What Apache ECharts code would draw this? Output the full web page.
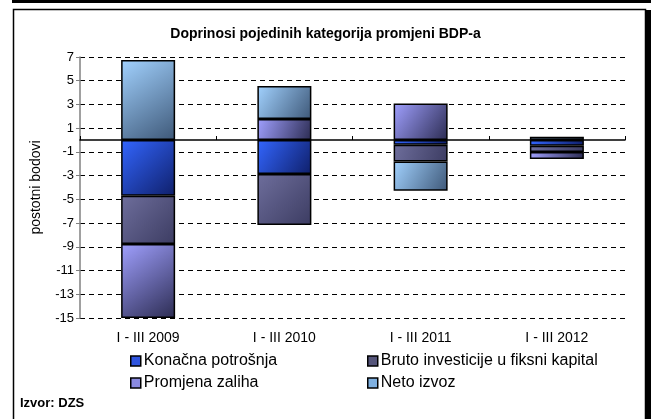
<!DOCTYPE html>
<html>
<head>
<meta charset="utf-8">
<script src="https://cdn.jsdelivr.net/npm/echarts@6/dist/echarts.min.js"></script>
<style>
html,body{margin:0;padding:0;background:#fff;}
#c{width:651px;height:419px;}
</style>
</head>
<body>
<div id="c"></div>
<script>
var categories = ['I - III 2009', 'I - III 2010', 'I - III 2011', 'I - III 2012'];
var seriesNames = ['Konačna potrošnja', 'Bruto investicije u fiksni kapital', 'Promjena zaliha', 'Neto izvoz'];
var konacna = [-4.7, -2.87, -0.4, -0.48];
var bruto = [-4.07, -4.3, -1.4, -0.52];
var promjena = [-6.23, 1.77, 3.09, -0.6];
var neto = [6.75, 2.78, -2.47, 0.28];
var yTicks = {min: -15, max: 7, interval: 2};

var FONT = '"Liberation Sans", Arial, sans-serif';
function grad(a, b) {
  return new echarts.graphic.LinearGradient(0, 0, 1, 1, [{offset: 0, color: a}, {offset: 1, color: b}]);
}
var fills = [grad('#3366ff', '#0f1f6a'), grad('#6e6e9c', '#3c3c62'), grad('#a0a0ff', '#2c2c52'), grad('#a2d2ff', '#3e5878')];
var solid = ['#2f55e0', '#55557a', '#8a8ae0', '#7fb0e0'];
var values = [konacna, bruto, promjena, neto];

var chart = echarts.init(document.getElementById('c'));
var series = seriesNames.map(function (n, i) {
  return {
    name: n, type: 'bar', stack: 'all', barWidth: 54, xAxisIndex: 0,
    data: values[i],
    itemStyle: {color: fills[i], borderColor: '#000', borderWidth: 1.5},
    emphasis: {disabled: true}
  };
});
var legendPos = [[130, 353], [367, 353], [130, 375], [367, 375]];
var legends = seriesNames.map(function (n, i) {
  return {
    left: legendPos[i][0], top: legendPos[i][1], orient: 'horizontal',
    data: [{name: n, icon: 'rect', itemStyle: {color: solid[i], borderColor: '#000', borderWidth: 1.5}}],
    itemWidth: 10, itemHeight: 10, itemGap: 4, padding: 0,
    textStyle: {fontFamily: FONT, fontSize: 16, color: '#000', padding: [0, 0, 0, -2]},
    selectedMode: false
  };
});
chart.setOption({
  animation: false,
  title: {
    text: 'Doprinosi pojedinih kategorija promjeni BDP-a',
    left: 'center', top: 22,
    textStyle: {fontFamily: FONT, fontSize: 14, fontWeight: 'bold', color: '#000'}
  },
  legend: legends,
  grid: {left: 80, right: 26, top: 57, bottom: 101},
  xAxis: [{
    type: 'category', data: categories, position: 'bottom',
    axisLine: {show: false, onZero: false}, axisTick: {show: false},
    axisLabel: {fontFamily: FONT, fontSize: 14, color: '#000', margin: 13}
  }, {
    type: 'category', data: categories,
    axisLine: {show: true, onZero: true, lineStyle: {color: '#000', width: 1.5}},
    axisTick: {show: true, length: 4, lineStyle: {color: '#000'}},
    axisLabel: {show: false}
  }],
  yAxis: {
    type: 'value', min: yTicks.min, max: yTicks.max, interval: yTicks.interval,
    name: 'postotni bodovi', nameLocation: 'middle', nameGap: 37,
    nameTextStyle: {fontFamily: FONT, fontSize: 14, color: '#000'},
    axisLine: {show: true, lineStyle: {color: '#808080', width: 1.5}},
    axisTick: {show: true, length: 4, lineStyle: {color: '#808080'}},
    axisLabel: {fontFamily: FONT, fontSize: 13, color: '#000', margin: 6},
    splitLine: {show: true, lineStyle: {color: '#000', type: [5, 4], width: 1}}
  },
  series: series,
  graphic: [
    {type: 'rect', shape: {x: 12, y: 0, width: 639, height: 3}, style: {fill: '#000'}, silent: true},
    {type: 'rect', shape: {x: 646, y: 10, width: 5, height: 409}, style: {fill: '#000'}, silent: true},
    {type: 'rect', shape: {x: 13.5, y: 9.5, width: 632, height: 420}, style: {fill: null, stroke: '#000', lineWidth: 1.5}, silent: true},
    {type: 'text', left: 20, top: 397, style: {text: 'Izvor: DZS', font: 'bold 13px ' + FONT, fill: '#000'}, silent: true}
  ]
});
</script>
</body>
</html>
